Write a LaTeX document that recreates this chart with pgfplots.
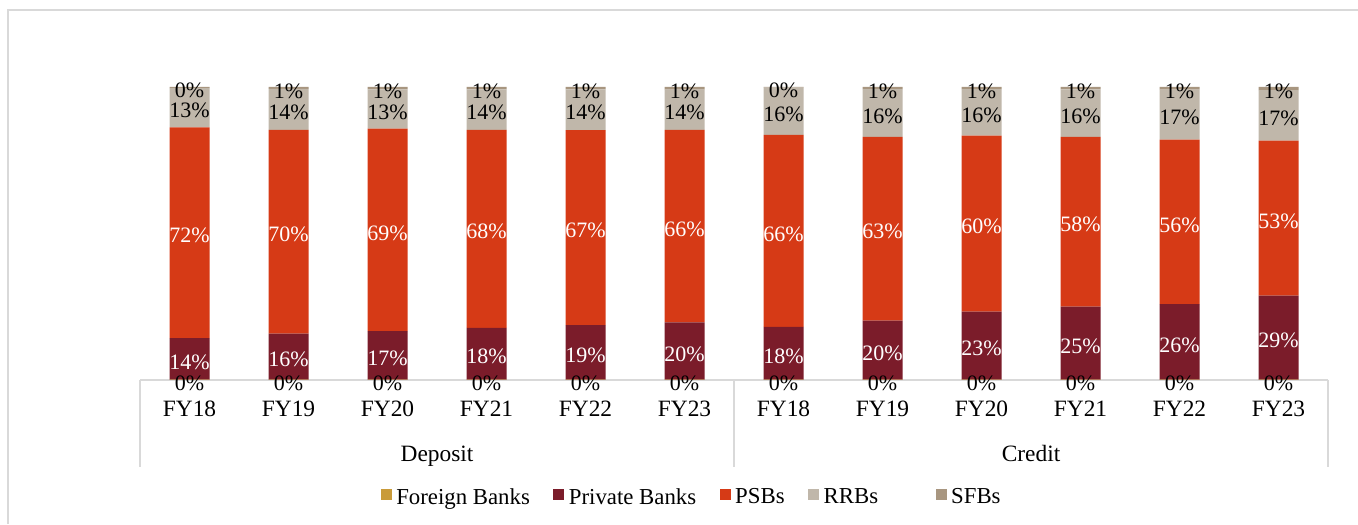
\documentclass[border=0pt]{standalone}
\usepackage{pgfplots}
\pgfplotsset{compat=1.18}
\usepackage{pgfplotstable}
\usepackage{fontspec}
\setmainfont{Liberation Serif}

\definecolor{cForeign}{RGB}{201,155,58}
\definecolor{cPrivate}{RGB}{123,28,42}
\definecolor{cPSB}{RGB}{214,58,22}
\definecolor{cRRB}{RGB}{192,183,170}
\definecolor{cSFB}{RGB}{168,150,128}
\definecolor{framegray}{RGB}{217,217,217}

% shares in %, columns: foreign, private, PSB, RRB, SFB
% x = 0..5 deposit FY18..FY23, 6..11 credit FY18..FY23
\pgfplotstableread{
x  F    P     S     R     B
0  0.1  14.2  71.9  13.4  0.4
1  0.1  15.7  69.6  14.0  0.6
2  0.1  16.6  69.1  13.4  0.8
3  0.1  17.7  67.6  13.8  0.8
4  0.1  18.6  66.6  13.9  0.8
5  0.1  19.6  65.7  13.7  0.9
6  0.1  18.0  65.6  16.1  0.2
7  0.1  20.2  62.7  16.3  0.7
8  0.1  23.2  60.1  15.9  0.7
9  0.1  24.9  58.0  16.2  0.8
10 0.1  25.8  56.1  17.1  0.9
11 0.1  28.7  52.9  17.2  1.1
}\shares

% middle of every segment, for the labels
\pgfplotstablecreatecol[create col/expr={\thisrow{F}/2}]{cF}\shares
\pgfplotstablecreatecol[create col/expr={\thisrow{F}+\thisrow{P}/2}]{cP}\shares
\pgfplotstablecreatecol[create col/expr={\thisrow{F}+\thisrow{P}+\thisrow{S}/2}]{cS}\shares
\pgfplotstablecreatecol[create col/expr={\thisrow{F}+\thisrow{P}+\thisrow{S}+\thisrow{R}/2}]{cR}\shares
\pgfplotstablecreatecol[create col/expr={\thisrow{F}+\thisrow{P}+\thisrow{S}+\thisrow{R}+\thisrow{B}/2}]{cB}\shares

\newcommand\axfont{\fontsize{11.7}{14}\selectfont}
\pgfplotsset{
  frame/.style={at={(70pt,72pt)},anchor=south west,width=594pt,height=146.5pt,
    scale only axis,xmin=-0.5,xmax=11.5,ymin=0,ymax=100,clip=false},
  lbl/.style={draw=none,point meta=explicit,
    nodes near coords={\pgfmathprintnumber[fixed,precision=0,assume math mode=true]{\pgfplotspointmeta}\%},
    every node near coord/.append style={anchor=center,inner sep=0pt,yshift=-1.5pt,text=#1}},
}

\begin{document}
\fontsize{11}{13}\selectfont
\begin{tikzpicture}
\draw[framegray,line width=0.75pt] (4pt,0pt) |- (679pt,257pt);

\begin{axis}[frame,
  ybar stacked, bar width=20pt,
  axis x line*=bottom, axis y line=none,
  x axis line style={draw=framegray,line width=0.6pt,-},
  xtick={0,...,11}, major tick length=0pt,
  xticklabels={FY18,FY19,FY20,FY21,FY22,FY23,FY18,FY19,FY20,FY21,FY22,FY23},
  xticklabel style={anchor=base,yshift=-18.3pt,font=\axfont},
  ytick=\empty,
  legend columns=5,
  legend style={draw=none,fill=none,at={(0.4646,-0.4024)},anchor=center,
    font=\fontsize{11.4}{13}\selectfont,
    nodes={inner xsep=1.25pt,inner ysep=0pt},
    /tikz/every even column/.append style={column sep=10.5pt}},
  legend image code/.code={\fill[#1] (0pt,-1.25pt) rectangle (5.5pt,4.25pt);
    \path (6.5pt,0pt);},
]
\addplot[fill=cForeign,draw=none] table[x=x,y=F]{\shares};
\addplot[fill=cPrivate,draw=none] table[x=x,y=P]{\shares};
\addplot[fill=cPSB,draw=none] table[x=x,y=S]{\shares};
\addplot[fill=cRRB,draw=none] table[x=x,y=R]{\shares};
\addplot[fill=cSFB,draw=none] table[x=x,y=B]{\shares};
\legend{Foreign Banks,Private Banks,PSBs,RRBs\hspace*{17pt},SFBs}

\draw[framegray,line width=0.6pt] (axis cs:-0.5,0) -- ++(0pt,-43.5pt);
\draw[framegray,line width=0.6pt] (axis cs:5.5,0) -- ++(0pt,-43.5pt);
\draw[framegray,line width=0.6pt] (axis cs:11.5,0) -- ++(0pt,-43.5pt);
\node[anchor=base,yshift=-40.5pt,font=\axfont] at (axis cs:2.5,0) {Deposit};
\node[anchor=base,yshift=-40.5pt,font=\axfont] at (axis cs:8.5,0) {Credit};
\end{axis}

\begin{axis}[frame,hide axis]
\addplot[lbl=black] table[x=x,y=cF,meta=F]{\shares};
\addplot[lbl=white] table[x=x,y=cP,meta=P]{\shares};
\addplot[lbl=white] table[x=x,y=cS,meta=S]{\shares};
\addplot[lbl=black] table[x=x,y=cR,meta=R]{\shares};
\addplot[lbl=black] table[x=x,y=cB,meta=B]{\shares};
\end{axis}

\pgfresetboundingbox
\useasboundingbox (0pt,0pt) rectangle (679pt,262pt);
\end{tikzpicture}
\end{document}
